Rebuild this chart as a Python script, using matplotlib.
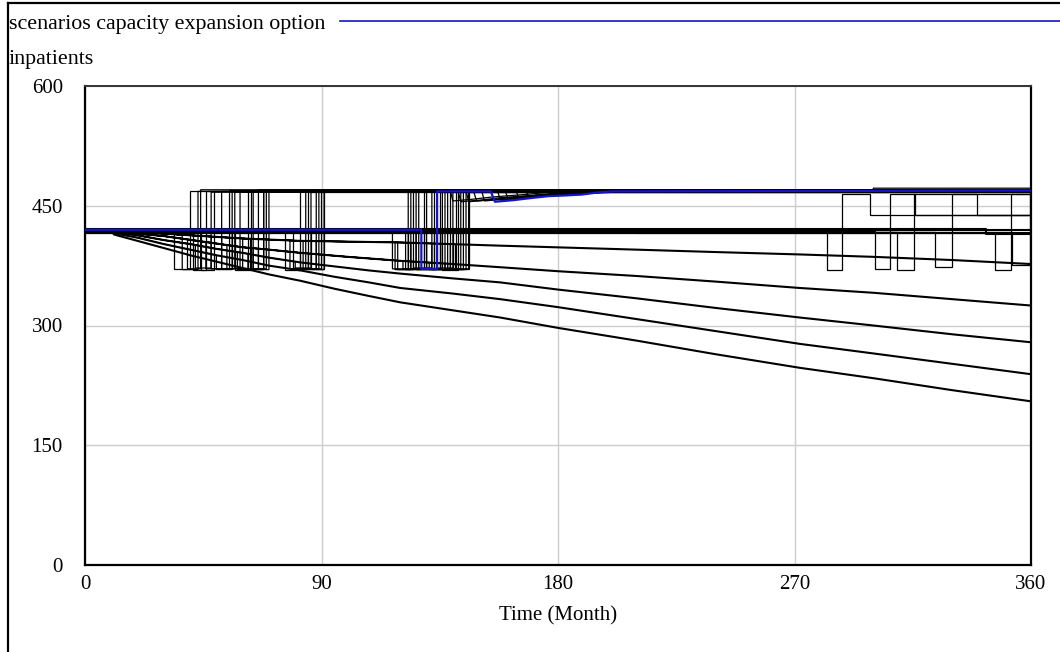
import matplotlib
matplotlib.use("Agg")
import matplotlib.pyplot as plt
from matplotlib.lines import Line2D

# ---------------- text / axes ----------------
title_text = "scenarios capacity expansion option"
y_unit = "inpatients"
x_label = "Time (Month)"
x_ticks = [0, 90, 180, 270, 360]
y_ticks = [0, 150, 300, 450, 600]

# ---------------- scenarios without expansion ----------------
flat_t = [0, 360]
flat_v = [419, 419]
flat2_t = [0, 210, 210, 360]
flat2_v = [420, 420, 416, 416]
flat3_t = [0, 343, 343, 360]
flat3_v = [421, 421, 415, 415]

line_a_t = [0, 15, 16, 40, 60, 82, 120, 158, 210, 240, 272, 300, 330, 360]
line_a_v = [420, 420, 418, 413, 409, 406, 404, 400, 395, 392, 389, 386, 382, 377]
line_b_t = [0, 13, 14, 30, 45, 60, 70, 82, 100, 120, 140, 158, 180, 210, 240, 272, 300, 330, 360]
line_b_v = [420, 420, 417, 412, 405, 398, 395, 391, 386, 381, 377, 373, 368, 362, 355, 347, 341, 333, 325]
line_c_t = [0, 12, 13, 20, 30, 40, 50, 60, 70, 82, 95, 108, 120, 140, 158, 180, 210, 240, 272, 300, 330, 360]
line_c_v = [420, 420, 416, 413, 407, 402, 396, 391, 385, 379, 374, 369, 365, 359, 354, 345, 334, 322, 310, 300, 289, 279]
line_d_t = [0, 11, 12, 20, 30, 40, 50, 60, 70, 82, 95, 108, 120, 140, 158, 180, 210, 240, 272, 300, 330, 360]
line_d_v = [420, 420, 415, 410, 402, 395, 388, 382, 375, 369, 361, 354, 347, 340, 333, 323, 308, 293, 277, 265, 252, 239]
line_e_t = [0, 10, 11, 20, 30, 40, 50, 60, 70, 82, 95, 108, 120, 140, 158, 180, 210, 240, 272, 300, 330, 360]
line_e_v = [420, 420, 414, 406, 397, 388, 380, 372, 364, 356, 346, 337, 329, 319, 310, 297, 281, 264, 247, 234, 219, 205]

bases = {
    "flat": (flat_t, flat_v),
    "A": (line_a_t, line_a_v),
    "B": (line_b_t, line_b_v),
    "C": (line_c_t, line_c_v),
    "D": (line_d_t, line_d_v),
}

# ---------------- expansion scenarios ----------------
early_base = ["flat", "A", "B", "flat", "C", "flat", "B", "A", "D", "A", "B", "flat", "flat",
              "C", "A", "C", "A", "B", "B",
              "flat", "A", "flat", "C", "B", "A", "B", "flat", "A"]
early_drop_t = [34, 37, 39, 41, 42, 44, 46, 48, 50, 52, 54, 56, 57, 58, 60, 62, 63, 64, 66,
                76, 78, 79, 80, 82, 83, 85, 86, 88]
early_drop_v = [419, 413.6, 407.8, 419, 400.8, 419, 404.5, 411.4, 388, 410.6, 400.8, 419, 419,
                392, 409, 389.8, 408.6, 396.8, 396.2,
                419, 406.5, 419, 380, 391, 406, 390.2, 419, 405.7]
early_trough = [371, 370, 371, 370, 372, 370, 371, 371, 370, 371, 371, 372, 370, 370, 371, 370,
                371, 371, 370, 370, 371, 372, 372, 370, 371, 371, 371, 370]
early_up_t = [40, 43, 44, 46, 48, 49, 52, 55, 56, 57, 59, 62, 63, 64, 66, 68, 68, 69, 70,
              82, 84, 85, 86, 88, 89, 90, 91, 91]
early_top = [469, 468, 470, 469, 467, 468, 468, 469, 468, 467, 467, 469, 468, 468, 470, 467,
             469, 468, 468, 469, 468, 467, 467, 469, 469, 468, 468, 470]
early_tail = [[] for _ in early_base]
early_tail[2] = [(300, 470), (300, 472)]

mid_base = ["flat", "A", "A", "B", "flat", "flat", "A", "B", "B", "flat", "flat", "A", "A",
            "B", "flat", "A", "flat", "B", "B", "A", "A", "flat", "flat"]
mid_drop_t = [117, 118, 119, 121, 122, 123, 124, 125, 127, 126, 129, 130, 132, 131, 133, 134,
              135, 137, 138, 139, 141, 136, 140]
mid_drop_v = [419, 404.1, 404, 380.8, 419, 419, 403.6, 380, 379.6, 419, 419, 403, 402.7, 378.8,
              419, 402.5, 419, 377.6, 377.4, 402, 401.9, 419, 419]
mid_trough = [371, 370, 370, 371, 370, 371, 371, 372, 370, 370, 371, 371, 370, 370, 371, 372,
              371, 371, 370, 370, 371, 370, 371]
mid_up_t = [123, 125, 124, 126, 127, 129, 130, 132, 134, 133, 135, 136, 138, 137, 139, 140,
            141, 143, 144, 145, 146, 142, 146]
mid_top = [469, 468, 468, 469, 467, 469, 468, 469, 468, 468, 467, 469, 469, 467, 468, 469,
           468, 469, 469, 468, 468, 468, 467]
mid_tail = [[] for _ in mid_base]
mid_tail[0] = [(139, 469), (140, 456), (147, 458), (155, 461), (167, 464), (184, 469)]
mid_tail[2] = [(142, 468), (143, 455), (150, 457), (158, 460), (170, 463), (187, 468)]
mid_tail[3] = [(145, 469), (146, 455), (153, 457), (161, 460), (173, 463), (190, 469)]
mid_tail[4] = [(148, 467), (149, 456), (156, 458), (164, 461), (176, 464), (193, 467)]
mid_tail[6] = [(151, 468), (152, 456), (159, 458), (167, 461), (179, 464), (196, 468)]
mid_tail[7] = [(157, 469), (158, 457), (165, 459), (173, 462), (185, 465), (200, 469)]
mid_tail[9] = [(160, 468), (161, 458), (168, 460), (176, 462), (188, 465), (203, 468)]
mid_tail[11] = [(164, 469), (165, 460), (172, 462), (180, 464), (192, 466), (206, 469)]
mid_tail[13] = [(168, 467), (169, 461), (177, 463), (187, 465), (202, 467)]
mid_tail[15] = [(171, 469), (172, 462), (180, 464), (190, 466), (205, 469)]

# late scenarios: explicit paths
late_paths_t = [
    [0, 282.2, 282.2, 288.2, 288.2, 298.7, 298.7, 360],
    [0, 300.5, 300.5, 306.5, 306.5, 316, 316, 360],
    [0, 309, 309, 315.4, 315.4, 360],
    [0, 323.5, 323.5, 329.8, 329.8, 339.3, 339.3, 360],
    [0, 346.2, 346.2, 352.5, 352.5, 360],
    [0, 352.8, 352.8, 359.5, 359.5, 360],
]
late_paths_v = [
    [419, 419, 370, 370, 465, 465, 438, 438],
    [418, 418, 371, 371, 465, 465, 438, 438],
    [417, 417, 369, 369, 465, 465],
    [417, 417, 373, 373, 465, 465, 438, 438],
    [416, 416, 370, 370, 465, 465],
    [417, 417, 376, 376, 465, 465],
]

# current run (blue)
blue_t = [0, 128, 128, 134, 134, 154.4, 156, 163, 170.6, 176.3, 183.3, 189, 196, 201.6, 360]
blue_v = [420, 420, 371, 371, 468, 468, 455, 457, 460, 462, 463, 464, 467, 468, 469]


def expansion_path(base, t_drop, v_drop, trough, t_up, top, tail):
    bt, bv = bases[base]
    ts = [t for t in bt if t < t_drop]
    vs = [v for t, v in zip(bt, bv) if t < t_drop]
    ts += [t_drop, t_drop, t_up, t_up]
    vs += [v_drop, trough, trough, top]
    for t, v in tail:
        ts.append(t)
        vs.append(v)
    ts.append(360)
    vs.append(vs[-1])
    return ts, vs


# ---------------- figure ----------------
plt.rcParams["font.family"] = ["Liberation Serif", "DejaVu Serif"]
FS = 15

fig = plt.figure(figsize=(10.6, 6.52), dpi=100)
ax = fig.add_axes([85 / 1060, 1 - 565 / 652, 946 / 1060, 479 / 652])

ax.set_xlim(0, 360)
ax.set_ylim(0, 600)
ax.set_xticks(x_ticks)
ax.set_yticks(y_ticks)
ax.set_xticklabels([str(v) for v in x_ticks], fontsize=FS)
ax.set_yticklabels([str(v) for v in y_ticks], fontsize=FS)
ax.tick_params(axis="both", length=0)
ax.tick_params(axis="y", pad=16)
ax.tick_params(axis="x", pad=7)
ax.grid(True, color="#cccccc", lw=1.0)
ax.set_axisbelow(True)
for side in ["left", "right", "bottom"]:
    ax.spines[side].set_color("black")
    ax.spines[side].set_linewidth(1.6)
ax.spines["top"].set_color("#333333")
ax.spines["top"].set_linewidth(1.4)

ax.set_xlabel(x_label, fontsize=FS, labelpad=9)

black_kw = dict(color="black", lw=0.9, solid_joinstyle="miter")

for t, v in [(line_a_t, line_a_v), (line_b_t, line_b_v), (line_c_t, line_c_v),
             (line_d_t, line_d_v), (line_e_t, line_e_v)]:
    ax.plot(t, v, color="black", lw=1.5)
for t, v in [(flat_t, flat_v), (flat2_t, flat2_v), (flat3_t, flat3_v)]:
    ax.plot(t, v, color="black", lw=1.5)

for i in range(len(early_base)):
    t, v = expansion_path(early_base[i], early_drop_t[i], early_drop_v[i], early_trough[i],
                          early_up_t[i], early_top[i], early_tail[i])
    ax.plot(t, v, **black_kw)

for i in range(len(mid_base)):
    t, v = expansion_path(mid_base[i], mid_drop_t[i], mid_drop_v[i], mid_trough[i],
                          mid_up_t[i], mid_top[i], mid_tail[i])
    ax.plot(t, v, **black_kw)

for t, v in zip(late_paths_t, late_paths_v):
    ax.plot(t, v, **black_kw)

ax.plot(blue_t, blue_v, color="#1414c8", lw=1.6, zorder=5)

# header texts
fig.text(9 / 1060, 1 - 29 / 652, title_text, fontsize=15.8, ha="left", va="baseline")
fig.text(9 / 1060, 1 - 64 / 652, y_unit, fontsize=15.8, ha="left", va="baseline")
fig.add_artist(Line2D([340 / 1060, 1.0], [1 - 21 / 652, 1 - 21 / 652],
                      transform=fig.transFigure, color="#1414c8", lw=1.2))

# outer frame (left and top edges)
fig.add_artist(Line2D([7.5 / 1060, 7.5 / 1060], [0, 1 - 3 / 652],
                      transform=fig.transFigure, color="black", lw=1.6))
fig.add_artist(Line2D([7.5 / 1060, 1.0], [1 - 3 / 652, 1 - 3 / 652],
                      transform=fig.transFigure, color="black", lw=1.6))

fig.savefig("out.png", dpi=100)
